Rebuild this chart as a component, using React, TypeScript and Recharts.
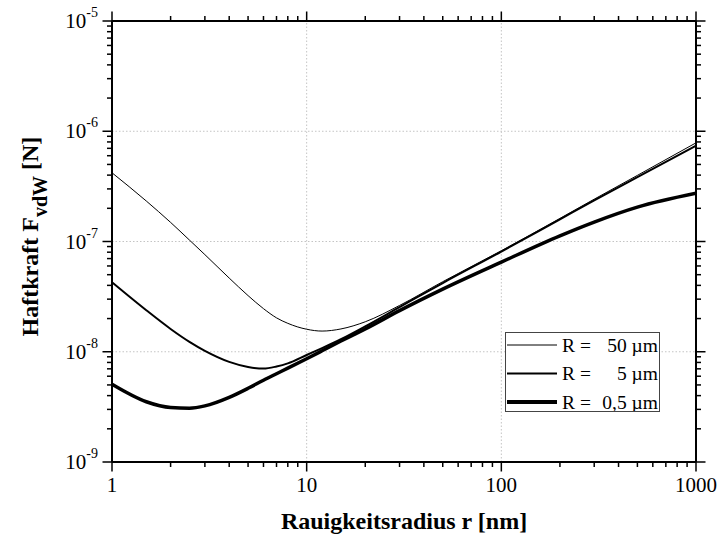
import React from 'react';
import { LineChart, Line, XAxis, YAxis, ReferenceLine, Legend } from 'recharts';

// Rauigkeitsradius r [nm]
const radius = [1, 1.5, 2, 2.5, 3, 4, 5, 6, 7, 8, 10, 12, 15, 20, 30, 50, 100, 200, 300, 500, 1000];
// Haftkraft F_vdW [N] for R = 50 µm
const force50um = [4.2e-7, 2.33e-7, 1.49e-7, 1.03e-7, 7.6e-8, 4.66e-8, 3.23e-8, 2.46e-8, 2.03e-8, 1.81e-8, 1.6e-8, 1.54e-8, 1.61e-8, 1.87e-8, 2.63e-8, 4.32e-8, 8.25e-8, 1.62e-7, 2.42e-7, 3.98e-7, 7.85e-7];
// R = 5 µm
const force5um = [4.27e-8, 2.38e-8, 1.61e-8, 1.23e-8, 1.02e-8, 8.1e-9, 7.28e-9, 7.03e-9, 7.35e-9, 7.85e-9, 9.35e-9, 1.08e-8, 1.3e-8, 1.7e-8, 2.54e-8, 4.2e-8, 8.1e-8, 1.59e-7, 2.36e-7, 3.84e-7, 7.4e-7];
// R = 0,5 µm
const force05um = [5.07e-9, 3.52e-9, 3.12e-9, 3.08e-9, 3.23e-9, 3.86e-9, 4.66e-9, 5.52e-9, 6.32e-9, 7.1e-9, 8.65e-9, 1.02e-8, 1.25e-8, 1.61e-8, 2.36e-8, 3.7e-8, 6.5e-8, 1.125e-7, 1.5e-7, 2.05e-7, 2.74e-7];

const seriesKeys = ['f50', 'f5', 'f05'];
const seriesValues = ['50 µm', '5 µm', '0,5 µm'];
const seriesWidths = [1, 2, 3.5];

const xMajorTicks = [1, 10, 100, 1000];
const xTickLabels = ['1', '10', '100', '1000'];
const yMajorTicks = [1e-9, 1e-8, 1e-7, 1e-6, 1e-5];
const yExponents = ['-9', '-8', '-7', '-6', '-5'];
const xGridValues = [10, 100];
const yGridValues = [1e-8, 1e-7, 1e-6];

const withMinors = (majors: number[]) => {
  const out: number[] = [];
  for (let i = 0; i < majors.length; i++) {
    out.push(majors[i]);
    if (i < majors.length - 1) {
      for (let k = 2; k <= 9; k++) out.push(majors[i] * k);
    }
  }
  return out;
};
const xAllTicks = withMinors(xMajorTicks);
const yAllTicks = withMinors(yMajorTicks);

const majorIndex = (v: number, majors: number[]) =>
  majors.findIndex((m) => Math.abs(v / m - 1) < 1e-6);

const data = radius.map((r, i) => ({
  r,
  f50: force50um[i],
  f5: force5um[i],
  f05: force05um[i],
}));

const FONT = "'Liberation Serif', 'Times New Roman', Times, serif";
const MAJOR = 9.5;
const MINOR = 5;
const TICK_W = 1.5;

const BottomTick = (props: any) => {
  const { x, y, payload } = props;
  const idx = majorIndex(payload.value, xMajorTicks);
  const major = idx >= 0;
  return (
    <g>
      <line x1={x} y1={y} x2={x} y2={y + (major ? MAJOR : MINOR)} stroke="#000" strokeWidth={TICK_W} />
      {major && (
        <text x={x} y={y + 30} textAnchor="middle" fontSize={21} fontFamily={FONT} fill="#000">
          {xTickLabels[idx]}
        </text>
      )}
    </g>
  );
};

const TopTick = (props: any) => {
  const { x, y, payload } = props;
  const major = majorIndex(payload.value, xMajorTicks) >= 0;
  return <line x1={x} y1={y} x2={x} y2={y - (major ? MAJOR : MINOR)} stroke="#000" strokeWidth={TICK_W} />;
};

const LeftTick = (props: any) => {
  const { x, y, payload } = props;
  const idx = majorIndex(payload.value, yMajorTicks);
  const major = idx >= 0;
  return (
    <g>
      <line x1={x} y1={y} x2={x - (major ? MAJOR : MINOR)} y2={y} stroke="#000" strokeWidth={TICK_W} />
      {major && (
        <text x={x - 14} y={y + 7} textAnchor="end" fontSize={21} fontFamily={FONT} fill="#000">
          10
          <tspan dy={-11} fontSize={14}>
            {yExponents[idx]}
          </tspan>
        </text>
      )}
    </g>
  );
};

const RightTick = (props: any) => {
  const { x, y, payload } = props;
  const major = majorIndex(payload.value, yMajorTicks) >= 0;
  return <line x1={x} y1={y} x2={x + (major ? MAJOR : MINOR)} y2={y} stroke="#000" strokeWidth={TICK_W} />;
};

const XTitle = (props: any) => {
  const vb = props.viewBox;
  return (
    <text x={vb.x + vb.width / 2} y={vb.y + 67} textAnchor="middle" fontSize={24} fontWeight="bold" fontFamily={FONT} fill="#000">
      Rauigkeitsradius r [nm]
    </text>
  );
};

const YTitle = (props: any) => {
  const vb = props.viewBox;
  const cx = vb.x - 14;
  const cy = vb.y + vb.height / 2 - 5;
  return (
    <text x={cx} y={cy} transform={`rotate(-90 ${cx} ${cy})`} textAnchor="middle" fontSize={24} fontWeight="bold" fontFamily={FONT} fill="#000">
      Haftkraft F
      <tspan dy={9} fontSize={20}>vdW</tspan>
      <tspan dy={-9}> [N]</tspan>
    </text>
  );
};

const LegendBox = () => (
  <div style={{ width: 155, height: 80, border: '1px solid #444', background: '#fff', boxSizing: 'border-box' }}>
    <svg width={153} height={78} style={{ display: 'block' }}>
      {seriesValues.map((v, i) => {
        const cy = 12 + i * 28.5;
        return (
          <g key={v}>
            <line x1={1} x2={51} y1={cy} y2={cy} stroke="#000" strokeWidth={i === 2 ? 4 : seriesWidths[i]} />
            <text x={56} y={cy + 6.5} fontSize={19.5} fontFamily={FONT} fill="#000">
              R =
            </text>
            <text x={152} y={cy + 6.5} textAnchor="end" fontSize={19.5} fontFamily={FONT} fill="#000">
              {v}
            </text>
          </g>
        );
      })}
    </svg>
  </div>
);

export default function App() {
  return (
    <div style={{ position: 'absolute', left: 0, top: 0, width: 719, height: 544, background: '#fff' }}>
      <LineChart
        width={719}
        height={544}
        data={data}
        margin={{ top: 11, right: 13, bottom: 32, left: 52 }}
        style={{ fontFamily: FONT }}
      >
        <XAxis
          xAxisId="b"
          dataKey="r"
          type="number"
          scale="log"
          domain={[1, 1000]}
          allowDataOverflow
          ticks={xAllTicks}
          interval={0}
          orientation="bottom"
          height={50}
          tickSize={0}
          tickMargin={0}
          tickLine={false}
          axisLine={{ stroke: '#000', strokeWidth: 2 }}
          tick={BottomTick}
          label={{ content: XTitle }}
        />
        <XAxis
          xAxisId="t"
          dataKey="r"
          type="number"
          scale="log"
          domain={[1, 1000]}
          allowDataOverflow
          ticks={xAllTicks}
          interval={0}
          orientation="top"
          height={10}
          tickSize={0}
          tickMargin={0}
          tickLine={false}
          axisLine={{ stroke: '#000', strokeWidth: 2 }}
          tick={TopTick}
        />
        <YAxis
          yAxisId="l"
          type="number"
          scale="log"
          domain={[1e-9, 1e-5]}
          allowDataOverflow
          ticks={yAllTicks}
          interval={0}
          orientation="left"
          width={60}
          tickSize={0}
          tickMargin={0}
          tickLine={false}
          axisLine={{ stroke: '#000', strokeWidth: 2 }}
          tick={LeftTick}
          label={{ content: YTitle }}
        />
        <YAxis
          yAxisId="r"
          type="number"
          scale="log"
          domain={[1e-9, 1e-5]}
          allowDataOverflow
          ticks={yAllTicks}
          interval={0}
          orientation="right"
          width={10}
          tickSize={0}
          tickMargin={0}
          tickLine={false}
          axisLine={{ stroke: '#000', strokeWidth: 2 }}
          tick={RightTick}
        />
        {xGridValues.map((v) => (
          <ReferenceLine key={'gx' + v} x={v} xAxisId="b" yAxisId="l" stroke="#c4c4c4" strokeWidth={1} strokeDasharray="1.5 2" />
        ))}
        {yGridValues.map((v) => (
          <ReferenceLine key={'gy' + v} y={v} xAxisId="b" yAxisId="l" stroke="#c4c4c4" strokeWidth={1} strokeDasharray="1.5 2" />
        ))}
        {seriesKeys.map((k, i) => (
          <Line
            key={k}
            xAxisId="b"
            yAxisId="l"
            dataKey={k}
            name={seriesValues[i]}
            type="monotone"
            stroke="#000"
            strokeWidth={seriesWidths[i]}
            dot={false}
            activeDot={false}
            isAnimationActive={false}
          />
        ))}
        <Legend
          layout="horizontal"
          verticalAlign="middle"
          align="center"
          content={() => <LegendBox />}
          wrapperStyle={{ position: 'absolute', left: 505, top: 332, width: 155, height: 80 }}
        />
      </LineChart>
    </div>
  );
}
